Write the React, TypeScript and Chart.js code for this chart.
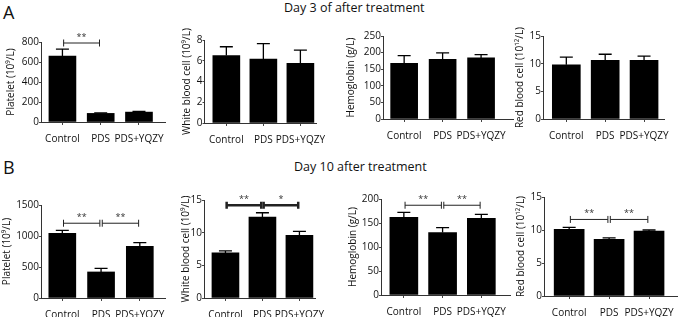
import React, { useEffect, useRef } from 'react';
import { Chart, registerables } from 'chart.js';

Chart.register(...registerables);

const groups = ['Control', 'PDS', 'PDS+YQZY'];

// Day 3 of after treatment
const platelet3 = [660, 86, 99];
const platelet3Sem = [68, 6, 7];
const wbc3 = [6.5, 6.15, 5.75];
const wbc3Sem = [0.85, 1.5, 1.28];
const hgb3 = [168, 180, 184];
const hgb3Sem = [23, 19, 10];
const rbc3 = [9.8, 10.6, 10.6];
const rbc3Sem = [1.4, 1.1, 0.75];

// Day 10 after treatment
const platelet10 = [1045, 420, 832];
const platelet10Sem = [45, 58, 62];
const wbc10 = [6.9, 12.4, 9.6];
const wbc10Sem = [0.3, 0.65, 0.6];
const hgb10 = [162, 130, 159.5];
const hgb10Sem = [10, 10.5, 8.5];
const rbc10 = [10.1, 8.6, 9.85];
const rbc10Sem = [0.3, 0.2, 0.15];

// y tick labels
const plateletTicks3 = [0, 200, 400, 600, 800];
const wbcTicks3 = [0, 2, 4, 6, 8];
const hgbTicks3 = [0, 50, 100, 150, 200, 250];
const rbcTicks3 = [0, 5, 10, 15];
const plateletTicks10 = [0, 500, 1000, 1500];
const wbcTicks10 = [0, 5, 10, 15];
const hgbTicks10 = [0, 50, 100, 150, 200];
const rbcTicks10 = [0, 5, 10, 15];

// significance brackets
const platelet3Sig = [{ from: 0, to: 1, at: 790, mark: '**' }];
const platelet10Sig = [
  { from: 0, to: 1, at: 1206, mark: '**' },
  { from: 1, to: 2, at: 1206, mark: '**' },
];
const wbc10Sig = [
  { from: 0, to: 1, at: 14.2, mark: '**' },
  { from: 1, to: 2, at: 14.2, mark: '*' },
];
const hgb10Sig = [
  { from: 0, to: 1, at: 187, mark: '**' },
  { from: 1, to: 2, at: 187, mark: '**' },
];
const rbc10Sig = [
  { from: 0, to: 1, at: 11.6, mark: '**' },
  { from: 1, to: 2, at: 11.6, mark: '**' },
];

const FONT = '"Open Sans", "DejaVu Sans", sans-serif';

const annotPlugin = {
  id: 'annot',
  afterDatasetsDraw(chart: any, _args: any, opts: any) {
    const { ctx } = chart;
    const xs = chart.scales.x;
    const ys = chart.scales.y;
    const pts = chart.data.datasets[0].data as { x: number; y: number }[];
    ctx.save();
    ctx.strokeStyle = '#000';
    ctx.lineWidth = 1.3;
    pts.forEach((p, i) => {
      const e = opts.sem[i];
      const x = xs.getPixelForValue(p.x);
      const y0 = ys.getPixelForValue(p.y);
      const y1 = ys.getPixelForValue(p.y + e);
      ctx.beginPath();
      ctx.moveTo(x, y0);
      ctx.lineTo(x, y1);
      ctx.moveTo(x - 6.5, y1);
      ctx.lineTo(x + 6.5, y1);
      ctx.stroke();
    });
    (opts.sig || []).forEach((s: any) => {
      const x0 = xs.getPixelForValue(s.from) + 1.2;
      const x1 = xs.getPixelForValue(s.to) - 1.2;
      const y = ys.getPixelForValue(s.at);
      ctx.lineWidth = opts.sigWidth;
      ctx.strokeStyle = '#222';
      ctx.beginPath();
      ctx.moveTo(x0, y);
      ctx.lineTo(x1, y);
      ctx.moveTo(x0, y - 3.5);
      ctx.lineTo(x0, y + 3.5);
      ctx.moveTo(x1, y - 3.5);
      ctx.lineTo(x1, y + 3.5);
      ctx.stroke();
      ctx.fillStyle = '#333';
      ctx.font = '9px ' + FONT;
      ctx.textAlign = 'center';
      ctx.textBaseline = 'alphabetic';
      ctx.fillText(s.mark, (x0 + x1) / 2, y - 3);
    });
    ctx.restore();
  },
};

type PanelCfg = {
  values: number[];
  sem: number[];
  ticks: number[];
  title: string;
  sig: { from: number; to: number; at: number; mark: string }[];
  sigWidth: number;
  L: number; T: number; R: number; B: number;
  labelX: number; xMin: number; xMax: number; barW: number;
};

const panels: PanelCfg[] = [
  { values: platelet3, sem: platelet3Sem, ticks: plateletTicks3, title: 'Platelet (10⁹/L)', sig: platelet3Sig, sigWidth: 1,
    L: 41, T: 42, R: 165, B: 122, labelX: 11, xMin: -0.56, xMax: 2.68, barW: 27 },
  { values: wbc3, sem: wbc3Sem, ticks: wbcTicks3, title: 'White blood cell (10⁹/L)', sig: [], sigWidth: 1,
    L: 204, T: 39.5, R: 320, B: 122.5, labelX: 186.5, xMin: -0.59, xMax: 2.44, barW: 27 },
  { values: hgb3, sem: hgb3Sem, ticks: hgbTicks3, title: 'Hemoglobin (g/L)', sig: [], sigWidth: 1,
    L: 383, T: 36, R: 513, B: 119, labelX: 351, xMin: -0.55, xMax: 2.83, barW: 27 },
  { values: rbc3, sem: rbc3Sem, ticks: rbcTicks3, title: 'Red blood cell (10¹²/L)', sig: [], sigWidth: 1,
    L: 543, T: 36, R: 665, B: 119, labelX: 520, xMin: -0.6, xMax: 2.53, barW: 28 },
  { values: platelet10, sem: platelet10Sem, ticks: plateletTicks10, title: 'Platelet (10⁹/L)', sig: platelet10Sig, sigWidth: 1,
    L: 41, T: 205, R: 165, B: 298, labelX: 7, xMin: -0.55, xMax: 2.65, barW: 27 },
  { values: wbc10, sem: wbc10Sem, ticks: wbcTicks10, title: 'White blood cell (10⁹/L)', sig: wbc10Sig, sigWidth: 2.5,
    L: 204, T: 199.5, R: 320, B: 297.5, labelX: 186, xMin: -0.58, xMax: 2.43, barW: 27 },
  { values: hgb10, sem: hgb10Sem, ticks: hgbTicks10, title: 'Hemoglobin (g/L)', sig: hgb10Sig, sigWidth: 1,
    L: 381, T: 199, R: 510, B: 295, labelX: 353, xMin: -0.59, xMax: 2.74, barW: 28 },
  { values: rbc10, sem: rbc10Sem, ticks: rbcTicks10, title: 'Red blood cell (10¹²/L)', sig: rbc10Sig, sigWidth: 1,
    L: 544, T: 197, R: 677, B: 296, labelX: 521, xMin: -0.63, xMax: 2.7, barW: 30 },
];

const PAD_TOP = 14;
const PAD_RIGHT = 14;
const X_AXIS_H = 30;
const TITLE_HALF = 6;

function Panel({ cfg }: { cfg: PanelCfg }) {
  const ref = useRef<HTMLCanvasElement>(null);
  const left = cfg.labelX - TITLE_HALF;
  const top = cfg.T - PAD_TOP;
  const width = Math.round(cfg.R + PAD_RIGHT - left);
  const height = Math.round(cfg.B + X_AXIS_H - top);
  const yAxisW = cfg.L - left;

  useEffect(() => {
    if (!ref.current) return;
    const ymax = cfg.ticks[cfg.ticks.length - 1];
    const chart = new Chart(ref.current, {
      type: 'bar',
      data: {
        datasets: [
          {
            data: cfg.values.map((v, i) => ({ x: i, y: v })),
            backgroundColor: '#000',
            borderWidth: 0,
            barThickness: cfg.barW,
          },
        ],
      },
      options: {
        responsive: false,
        animation: false,
        events: [],
        layout: { padding: { left: 0, top: PAD_TOP, right: PAD_RIGHT, bottom: 0 } },
        plugins: {
          legend: { display: false },
          tooltip: { enabled: false },
          annot: { sem: cfg.sem, sig: cfg.sig, sigWidth: cfg.sigWidth },
        } as any,
        scales: {
          x: {
            type: 'linear',
            min: cfg.xMin,
            max: cfg.xMax,
            offset: false,
            grid: { display: true, drawOnChartArea: false, drawTicks: true, tickLength: 3, color: '#444', offset: false },
            border: { display: true, color: '#333', width: 1 },
            ticks: {
              font: { family: FONT, size: 10 },
              color: '#111',
              padding: 8,
              maxRotation: 0,
              autoSkip: false,
              callback: (v: any) => groups[v as number] ?? '',
            },
            afterBuildTicks: (s: any) => {
              s.ticks = groups.map((_, i) => ({ value: i }));
            },
            afterFit: (s: any) => {
              s.height = X_AXIS_H;
            },
          },
          y: {
            type: 'linear',
            min: 0,
            max: ymax,
            grid: { display: true, drawOnChartArea: false, drawTicks: true, tickLength: 2, color: '#444' },
            border: { display: true, color: '#333', width: 1 },
            ticks: {
              font: { family: FONT, size: 10 },
              color: '#111',
              padding: 0,
              callback: (v: any) => String(v),
            },
            afterBuildTicks: (s: any) => {
              s.ticks = cfg.ticks.map((v) => ({ value: v }));
            },
            afterFit: (s: any) => {
              s.width = yAxisW;
            },
            title: {
              display: true,
              text: cfg.title,
              font: { family: FONT, size: 10 },
              color: '#111',
              padding: 0,
            },
          },
        },
      },
      plugins: [annotPlugin],
    });
    return () => chart.destroy();
  }, []);

  return (
    <canvas
      ref={ref}
      width={width}
      height={height}
      style={{ position: 'absolute', left, top, width, height }}
    />
  );
}

export default function App() {
  const textBase: React.CSSProperties = {
    position: 'absolute',
    fontFamily: FONT,
    color: '#111',
    lineHeight: 1,
    whiteSpace: 'nowrap',
  };
  return (
    <div
      style={{
        position: 'absolute',
        left: 0,
        top: 0,
        width: 685,
        height: 317,
        overflow: 'hidden',
        background: '#fff',
      }}
    >
      <div style={{ ...textBase, left: 3, top: 3, fontSize: 18 }}>A</div>
      <div style={{ ...textBase, left: 3, top: 158, fontSize: 18 }}>B</div>
      <div style={{ ...textBase, left: 284, top: 1.5, fontSize: 12.5 }}>Day 3 of after treatment</div>
      <div style={{ ...textBase, left: 294, top: 160.5, fontSize: 12.5 }}>Day 10 after treatment</div>
      {panels.map((p, i) => (
        <Panel key={i} cfg={p} />
      ))}
    </div>
  );
}
